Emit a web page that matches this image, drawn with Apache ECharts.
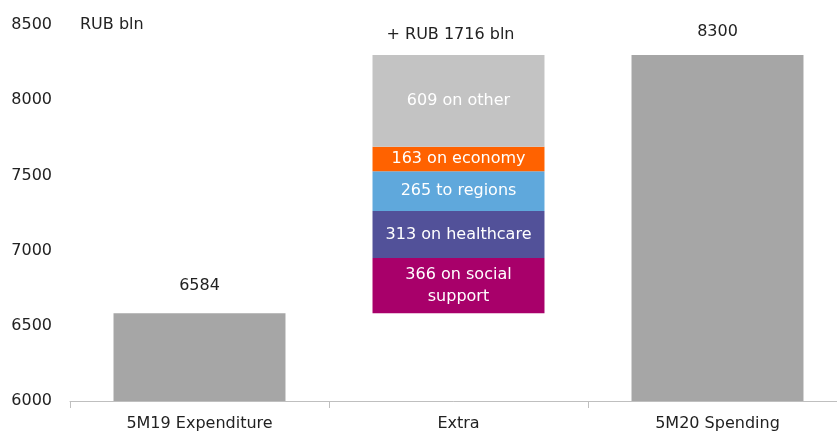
<!DOCTYPE html>
<html><head><meta charset="utf-8">
<script src="https://cdn.jsdelivr.net/npm/echarts@6/dist/echarts.min.js"></script>
<style>html,body{margin:0;padding:0;background:#fff}#c{width:837px;height:432px}</style>
</head><body><div id="c"></div>
<script>
const categories = ['5M19 Expenditure', 'Extra', '5M20 Spending'];
const yTicks = [6000, 6500, 7000, 7500, 8000, 8500];
const endValues = [6584, null, 8300];
const extraBase = 6584;
const segNames = ['366 on social\nsupport', '313 on healthcare', '265 to regions', '163 on economy', '609 on other'];
const segValues = [366, 313, 265, 163, 609];
const segColors = ['#a8006a', '#525199', '#5fa8dc', '#ff6200', '#c3c3c3'];
const unitLabel = 'RUB bln';

const extraTotal = segValues.reduce((a, b) => a + b, 0);
const font = '"DejaVu Sans", sans-serif';
const fs = 16;
const series = [];
series.push({
  type: 'bar', stack: 'a', silent: true,
  data: categories.map((c, i) => i === 1 ? extraBase : '-'),
  itemStyle: { color: 'transparent' }
});
series.push({
  type: 'bar', stack: 'a', barWidth: '66.4%',
  data: endValues.map((v, i) => v == null ? '-' : {
    value: v,
    label: { show: true, position: 'top', distance: i === 0 ? 19 : 15 }
  }),
  itemStyle: { color: '#a6a6a6' },
  label: { show: true, color: '#222', fontSize: fs, fontFamily: font }
});
segValues.forEach((v, k) => {
  const last = k === segValues.length - 1;
  series.push({
    type: 'bar', stack: 'a',
    data: categories.map((c, i) => i === 1 ? v : '-'),
    itemStyle: { color: segColors[k] },
    label: { show: true, position: 'inside', color: '#fff', fontSize: fs, fontFamily: font, lineHeight: 22,
      formatter: () => segNames[k] }
  });
  if (last) {
    series.push({
      type: 'bar', stack: 'a',
      data: categories.map((c, i) => i === 1 ? 0 : '-'),
      itemStyle: { color: 'transparent' },
      label: { show: true, position: 'top', distance: 12, offset: [-8, 0], color: '#222', fontSize: fs, fontFamily: font,
        formatter: () => '+ RUB ' + extraTotal + ' bln' }
    });
  }
});

const chart = echarts.init(document.getElementById('c'));
chart.setOption({
  animation: false,
  grid: { left: 70, right: -10, top: 25, bottom: 31, containLabel: false, outerBoundsMode: 'none' },
  graphic: [{ type: 'text', left: 80, top: 17, style: { text: unitLabel, fill: '#222', fontSize: fs, fontFamily: font } }],
  xAxis: {
    type: 'category', data: categories,
    axisLine: { lineStyle: { color: '#bfbfbf' } },
    axisTick: { show: true, length: 7, lineStyle: { color: '#bfbfbf' } },
    axisLabel: { color: '#222', fontSize: fs, fontFamily: font, margin: 15 }
  },
  yAxis: {
    type: 'value', min: yTicks[0], max: yTicks[yTicks.length - 1], interval: 500,
    splitLine: { show: false }, axisLine: { show: false }, axisTick: { show: false },
    axisLabel: { color: '#222', fontSize: fs, fontFamily: font, margin: 18, formatter: v => String(v) }
  },
  series: series
});
</script></body></html>
